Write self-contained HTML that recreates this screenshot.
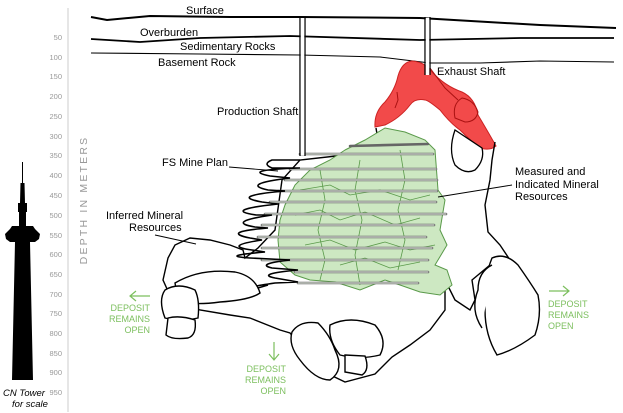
<!DOCTYPE html>
<html><head><meta charset="utf-8"><style>
html,body{margin:0;padding:0;background:#fff;width:623px;height:413px;overflow:hidden}
svg{display:block;font-family:"Liberation Sans",sans-serif}
</style></head><body>
<svg width="623" height="413" viewBox="0 0 623 413" xmlns="http://www.w3.org/2000/svg">
<line x1="68" y1="8" x2="68" y2="412" stroke="#ddd" stroke-width="1.5"/>
<g font-size="7.5" fill="#999" text-anchor="end">
<text x="62" y="40">50</text><text x="62" y="60">100</text><text x="62" y="79">150</text><text x="62" y="99">200</text>
<text x="62" y="119">250</text><text x="62" y="139">300</text><text x="62" y="158">350</text><text x="62" y="178">400</text>
<text x="62" y="198">450</text><text x="62" y="218">500</text><text x="62" y="238">550</text><text x="62" y="257">600</text>
<text x="62" y="277">650</text><text x="62" y="297">700</text><text x="62" y="316">750</text><text x="62" y="336">800</text>
<text x="62" y="356">850</text><text x="62" y="375">900</text><text x="62" y="395">950</text>
</g>
<text transform="translate(87,200) rotate(-90)" font-size="10.5" fill="#999" letter-spacing="2.2" text-anchor="middle">DEPTH IN METERS</text>
<path d="M22,162 L23,162 L23,183 L24.5,183 L25,203 L27,203 L27,212 L26,212 L26,226 L33,226 L35,229 L40,234 L39,239 L35,242 L30,242 L33,380 L12,380 L15,242 L10,242 L6,239 L5,234 L10,229 L12,226 L19,226 L19,212 L18,212 L18,203 L20,203 L20.5,183 L22,183 Z" fill="#000"/>
<text x="24" y="396" font-size="9.5" font-style="italic" text-anchor="middle">CN Tower</text>
<text x="30" y="407" font-size="9.5" font-style="italic" text-anchor="middle">for scale</text>
<path d="M91,17 L107,20 L150,16 L230,17 L300,17 L420,18 L540,25 L616,28" fill="none" stroke="#000" stroke-width="2"/>
<path d="M91,39 L140,42 L200,38 L290,36 L420,40 L520,38 L614,38" fill="none" stroke="#000" stroke-width="1.8"/>
<path d="M91,53 L200,54 L300,55 L380,57 L430,63 L480,63 L540,61 L614,62" fill="none" stroke="#000" stroke-width="1.1"/>
<g font-size="11" fill="#000">
<text x="186" y="14">Surface</text>
<text x="140" y="36">Overburden</text>
<text x="180" y="50">Sedimentary Rocks</text>
<text x="158" y="66">Basement Rock</text>
<text x="217" y="115">Production Shaft</text>
<text x="437" y="75">Exhaust Shaft</text>
<text x="162" y="166">FS Mine Plan</text>
<text x="515" y="175">Measured and</text>
<text x="515" y="188">Indicated Mineral</text>
<text x="515" y="200">Resources</text>
<text x="106" y="219">Inferred Mineral</text>
<text x="129" y="231">Resources</text>
</g>
<!-- red -->
<path d="M375,127 Q374,112 385,102 Q395,90 398,76 Q402,62 412,61 Q425,62 432,72 Q445,86 462,92 Q475,98 478,115 Q487,130 496,146 Q490,151 480,148 Q470,140 460,130 Q450,123 440,110 Q428,100 425,100 Q415,98 410,105 Q400,118 385,125 Z" fill="#f24a4a" stroke="#c22" stroke-width="1"/>
<path d="M455,118 Q452,104 462,98 Q474,100 478,112 Q476,122 465,122 Z" fill="none" stroke="#a11" stroke-width="1"/>
<path d="M395,108 L398,100 L397,92 M430,68 L445,88 L458,100" fill="none" stroke="#a11" stroke-width="1"/>
<!-- host rock outline -->
<path d="M376,128 L378,140 L362,150 L345,155 L300,160 L282,180 L275,230 L258,248 L245,258 L243,250 L230,245 L210,240 L190,238 L175,245 L168,258 L163,280 L172,300 L200,310 L230,315 L250,318 L280,330 L290,333 L305,352 L320,370 L345,382 L375,374 L392,357 L410,345 L430,330 L445,310 L445,280 L455,300 L470,310 L475,300 L472,280 L490,265 L510,260 L500,245 L488,232 L485,205 L490,180 L492,160 L495,142" fill="none" stroke="#000" stroke-width="1.4"/>
<path d="M455,130 Q448,150 455,165 Q465,175 475,170 Q485,160 482,148 Z" fill="#fff" stroke="#000" stroke-width="1.3"/>
<!-- green -->
<path d="M345,150 L365,140 L385,128 L405,132 L425,140 L435,150 L438,190 L445,200 L440,230 L447,245 L435,265 L447,270 L452,285 L440,295 L420,292 L400,285 L385,280 L360,290 L335,282 L310,280 L295,275 L280,262 L278,240 L280,220 L285,205 L295,185 L310,170 L330,160 Z" fill="#cde8c2" stroke="#5a9a4a" stroke-width="1"/>
<g fill="none" stroke="#5a9a4a" stroke-width="0.8">
<path d="M300,190 L330,185 L350,195 L380,190 L410,200 L430,195"/>
<path d="M295,215 L320,210 L340,220 L365,212 L395,225 L420,218"/>
<path d="M305,245 L330,240 L355,250 L385,242 L410,250 L435,245"/>
<path d="M320,170 L325,200 L318,230 L325,260 L320,280"/>
<path d="M360,160 L355,190 L362,220 L355,255 L360,285"/>
<path d="M400,150 L405,180 L398,210 L405,240 L398,270"/>
<path d="M340,265 L365,258 L390,268 L420,262"/>
</g>
<g stroke="#666" stroke-width="2.6" stroke-linecap="round">
<line x1="350" y1="146" x2="428" y2="144"/>
<line x1="300" y1="154" x2="433" y2="154"/>
<line x1="290" y1="169" x2="436" y2="169"/>
<line x1="285" y1="180" x2="437" y2="180"/>
<line x1="278" y1="191" x2="437" y2="191"/>
<line x1="270" y1="202" x2="436" y2="202"/>
<line x1="265" y1="214" x2="446" y2="214"/>
<line x1="262" y1="225" x2="434" y2="225"/>
<line x1="258" y1="237" x2="426" y2="237"/>
<line x1="262" y1="248" x2="432" y2="248"/>
<line x1="262" y1="260" x2="428" y2="260"/>
<line x1="295" y1="272" x2="428" y2="272"/>
<line x1="298" y1="283" x2="418" y2="283"/>
</g>
<g stroke="#eef7ea" stroke-width="1" stroke-linecap="round">
<line x1="300" y1="154" x2="433" y2="154"/><line x1="290" y1="169" x2="436" y2="169"/><line x1="285" y1="180" x2="437" y2="180"/><line x1="278" y1="191" x2="437" y2="191"/><line x1="270" y1="202" x2="436" y2="202"/><line x1="265" y1="214" x2="446" y2="214"/><line x1="262" y1="225" x2="434" y2="225"/><line x1="258" y1="237" x2="426" y2="237"/><line x1="262" y1="248" x2="432" y2="248"/><line x1="262" y1="260" x2="428" y2="260"/><line x1="295" y1="272" x2="428" y2="272"/><line x1="298" y1="283" x2="418" y2="283"/>
</g>
<path d="M300,160 L272,160 Q262,164 272,168 L300,168 M300,168 Q240,170 270,176 L290,178 Q240,184 268,190 L285,191 Q228,196 262,202 L278,204 Q222,210 256,215 L272,215 Q225,222 255,227 L268,228 Q220,232 250,238 L262,240 Q222,246 252,250 L265,252 Q218,256 250,258 L290,260 Q255,264 272,268 L298,270 Q255,274 275,278 L298,282 L275,283 Q240,288 258,288 L268,285" fill="none" stroke="#000" stroke-width="1.6"/>
<g stroke="#000" stroke-width="1.3"><line x1="300" y1="17" x2="300" y2="156"/><line x1="305" y1="17" x2="305" y2="156"/><line x1="425" y1="17" x2="425" y2="75"/><line x1="430" y1="17" x2="430" y2="75"/></g>
<line x1="302.5" y1="18" x2="302.5" y2="155" stroke="#fff" stroke-width="3.5"/>
<line x1="427.5" y1="18" x2="427.5" y2="75" stroke="#fff" stroke-width="3.5"/>
<g fill="#fff" stroke="#000" stroke-width="1.4">
<path d="M175,283 Q200,268 235,272 Q255,276 260,293 Q250,300 220,302 Q190,306 178,300 Z"/>
<path d="M165,290 Q178,282 195,290 Q200,300 198,318 Q180,322 165,318 Q158,300 165,290 Z"/>
<path d="M168,318 Q180,315 195,320 Q197,335 188,338 Q172,340 166,335 Z"/>
<path d="M292,332 Q300,320 318,323 Q330,335 335,350 Q345,370 330,380 Q315,380 300,360 Q288,345 292,332 Z"/>
<path d="M330,325 Q350,315 375,325 Q388,340 380,355 Q360,360 340,355 Q328,340 330,325 Z"/>
<path d="M345,355 L365,356 Q370,370 362,375 L345,372 Z"/>
<path d="M492,258 Q505,252 518,265 Q530,282 538,295 Q542,315 535,335 Q515,350 497,355 Q485,335 485,310 Q483,280 492,258 Z"/>
<path d="M492,265 Q478,272 478,290 Q470,310 482,328"/>
</g>
<g stroke="#000" stroke-width="0.9"><line x1="229" y1="167" x2="278" y2="171"/><line x1="512" y1="185" x2="438" y2="197"/><line x1="155" y1="235" x2="196" y2="244"/></g>
<g fill="#7cbf5e" font-size="9">
<text x="150" y="311" text-anchor="end">DEPOSIT</text><text x="150" y="322" text-anchor="end">REMAINS</text><text x="150" y="333" text-anchor="end">OPEN</text>
<text x="548" y="307">DEPOSIT</text><text x="548" y="318">REMAINS</text><text x="548" y="329">OPEN</text>
<text x="286" y="372" text-anchor="end">DEPOSIT</text><text x="286" y="383" text-anchor="end">REMAINS</text><text x="286" y="394" text-anchor="end">OPEN</text>
</g>
<g stroke="#7cbf5e" stroke-width="1.2" fill="none">
<path d="M130,296 L150,296 M136,291 L130,296 L136,301"/>
<path d="M549,291 L569,291 M563,286 L569,291 L563,296"/>
<path d="M274,342 L274,360 M269,354 L274,360 L279,354"/>
</g>
</svg>
</body></html>
